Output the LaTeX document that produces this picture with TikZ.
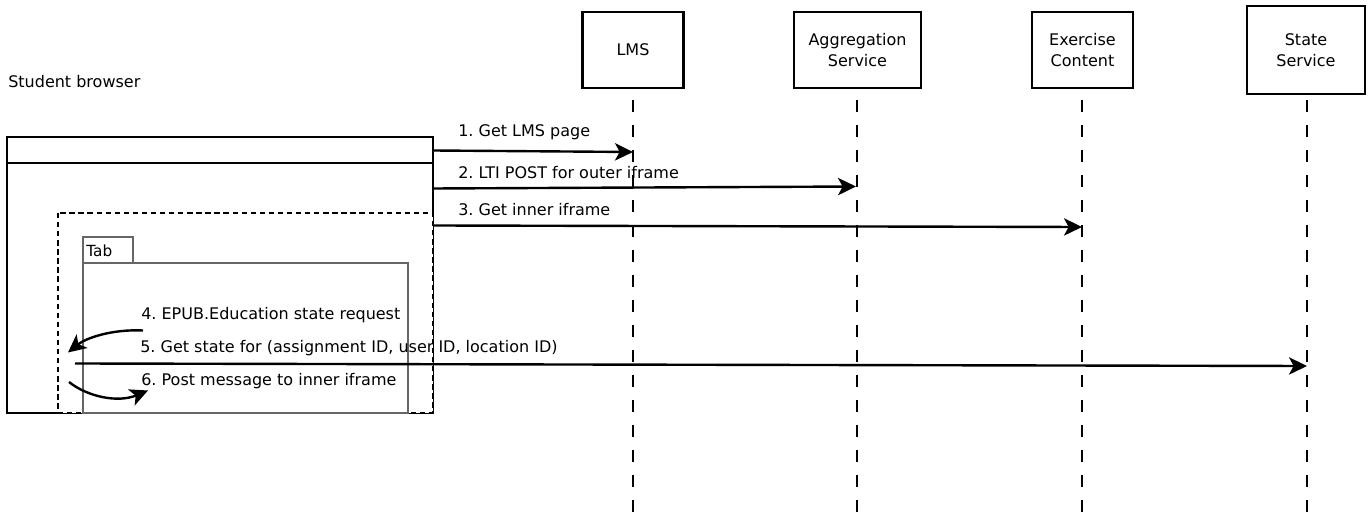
\documentclass[tikz,border=0pt]{standalone}
\usepackage{fontspec}
\setmainfont{DejaVu Sans}
\usetikzlibrary{arrows.meta}
\definecolor{tabgray}{HTML}{666666}
\frenchspacing
\begin{document}
\begin{tikzpicture}[x=0.75pt,y=-0.75pt,
  font=\fontsize{12}{15.5}\selectfont,
  actor/.style={draw=black,line width=2.2pt,align=center,inner sep=0pt},
  life/.style={draw=black,line width=1.9pt,dash pattern=on 9pt off 9.75pt},
  msg/.style={draw=black,line width=1.8pt,-{Stealth[length=13.5pt,width=13pt,inset=3.5pt]}},
  lbl/.style={anchor=west,inner sep=0pt},
  frame/.style={draw=black,line width=2.1pt},
  iframe/.style={draw=black,line width=1.9pt,dash pattern=on 4pt off 2.8pt,fill=white},
  tabbox/.style={draw=tabgray,line width=1.9pt}
]
\useasboundingbox (0,0) rectangle (1372,513);

% actors
\node[actor,minimum width={101*0.75pt},minimum height={76*0.75pt}] (lms) at (633,50) {LMS};
\node[actor,minimum width={127*0.75pt},minimum height={76*0.75pt}] (agg) at (857.5,50) {Aggregation\\Service};
\node[actor,minimum width={101*0.75pt},minimum height={76*0.75pt}] (exc) at (1082.5,50) {Exercise\\Content};
\node[actor,minimum width={118*0.75pt},minimum height={88*0.75pt}] (sts) at (1306,50) {State\\Service};

% lifelines
\coordinate (lmsT) at (633,100);  \coordinate (lmsB) at (633,513);
\coordinate (aggT) at (857,100);  \coordinate (aggB) at (857,513);
\coordinate (excT) at (1082,100); \coordinate (excB) at (1082,513);
\coordinate (stsT) at (1307,100); \coordinate (stsB) at (1307,513);
\draw[life] (lmsT) -- (lmsB);
\draw[life] (aggT) -- (aggB);
\draw[life] (excT) -- (excB);
\draw[life] (stsT) -- (stsB);

% browser
\node[lbl] (sb) at (8,82) {Student browser};
\draw[frame] (7,137) rectangle (433,413);
\draw[frame] (7,163) -- (433,163);
\draw[iframe] (58,213) rectangle (433,413);
\draw[tabbox] (83,263) rectangle (408,413);
\draw[tabbox,fill=white] (83,237) rectangle (133,263);
\node[lbl,font=\fontsize{11.5}{13}\selectfont] (tab) at (86,251) {Tab};

% messages
\coordinate (s1) at (433,150.5); \coordinate (e1) at (633,152);
\coordinate (s2) at (433,188.5); \coordinate (e2) at (856,186.5);
\coordinate (s3) at (433,225.5); \coordinate (e3) at (1082,227);
\coordinate (s5) at (75,363.5);  \coordinate (e5) at (1307,366);
\draw[msg] (s1) -- (e1);
\draw[msg] (s2) -- (e2);
\draw[msg] (s3) -- (e3);
\draw[msg] (s5) -- (e5);
\node[lbl] (l1) at (458,132) {1. Get LMS page};
\node[lbl] (l2) at (458,173) {2. LTI POST for outer iframe};
\node[lbl] (l3) at (458,210) {3. Get inner iframe};
\node[lbl] (l4) at (141,315) {4. EPUB.Education state request};
\node[lbl] (l5) at (140,348) {5. Get state for (assignment ID, user ID, location ID)};
\node[lbl] (l6) at (141,381) {6. Post message to inner iframe};

\coordinate (s4) at (143,330.5); \coordinate (e4) at (68,352.5);
\coordinate (s6) at (69,382);   \coordinate (e6) at (148,390.5);
\draw[msg] (s4) .. controls (112,329) and (86,338) .. (e4);
\draw[msg] (s6) .. controls (88,397) and (118,403) .. (e6);
\end{tikzpicture}
\end{document}
